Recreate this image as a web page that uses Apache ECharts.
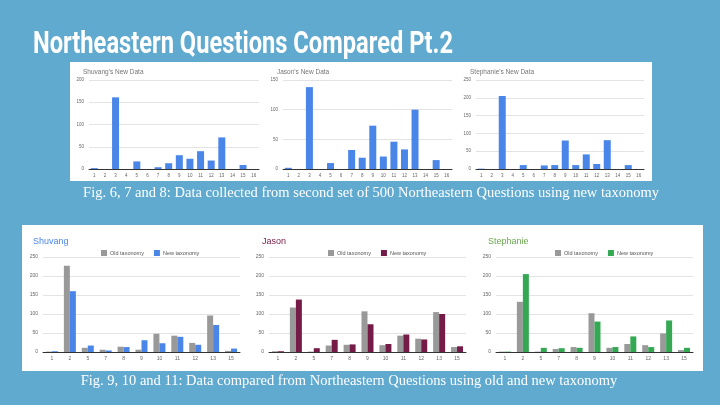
<!DOCTYPE html>
<html><head><meta charset="utf-8">
<script src="https://cdn.jsdelivr.net/npm/echarts@6/dist/echarts.min.js"></script>
<style>html,body{margin:0;padding:0;background:#60a9cf;}#c{width:720px;height:405px;}</style>
</head><body><div id="c"></div>
<script>
var slideTitle = 'Northeastern Questions Compared Pt.2';
var captionTop = 'Fig. 6, 7 and 8: Data collected from second set of 500 Northeastern Questions using new taxonomy';
var captionBottom = 'Fig. 9, 10 and 11: Data compared from Northeastern Questions using old and new taxonomy';

var topCategories = ['1','2','3','4','5','6','7','8','9','10','11','12','13','14','15','16'];
var topTitles = ["Shuvang's New Data", "Jason's New Data", "Stephanie's New Data"];
var topMax = [200, 150, 250];
var shuvangNewTop = [2,0,161,0,17,0,4,13,31,23,40,19,71,0,9,0];
var jasonNewTop = [2,0,138,0,10,0,32,19,73,21,46,33,100,0,15,0];
var stephanieNewTop = [1,0,205,0,11,0,10,11,80,11,41,14,81,0,11,0];

var bottomCategories = ['1','2','5','7','8','9','10','11','12','13','15'];
var bottomTitles = ['Shuvang', 'Jason', 'Stephanie'];
var seriesNames = ['Old taxonomy', 'New taxonomy'];
var shuvangOld = [1,227,11,6,14,6,48,43,24,96,3];
var shuvangNew = [2,160,17,4,13,31,23,40,19,71,9];
var jasonOld = [2,117,1,17,19,107,18,43,35,105,13];
var jasonNew = [2,138,10,32,20,73,21,46,33,100,15];
var stephanieOld = [1,132,1,8,13,102,11,21,18,49,5];
var stephanieNew = [1,205,11,10,11,80,13,41,13,83,11];

var topData = [shuvangNewTop, jasonNewTop, stephanieNewTop];
var bottomOld = [shuvangOld, jasonOld, stephanieOld];
var bottomNew = [shuvangNew, jasonNew, stephanieNew];
var newColors = ['#4a86e8', '#741b47', '#34a853'];
var titleColors = ['#4a86e8', '#741b47', '#6aa84f'];
var oldColor = '#999999';
var topBlue = '#4a86e8';

var topGrids = [{left:89,width:170},{left:283,width:169},{left:476,width:168}];
var topTitleX = [78, 272, 465];
var botGrids = [{left:43,width:197},{left:269,width:197},{left:496,width:197}];
var botTitleX = [28, 257, 483];
var legendX = [96, 323, 550];

var chart = echarts.init(document.getElementById('c'), null, {renderer:'canvas'});
var FONT = 'Liberation Sans, Arial, sans-serif';
var grid = [], xAxis = [], yAxis = [], series = [], titles = [], legends = [];

function axisPair(i, cats, max, labelSize) {
  xAxis.push({gridIndex:i, type:'category', data:cats,
    axisTick:{show:false}, axisLine:{lineStyle:{color:'#333', width:1}},
    axisLabel:{interval:0, fontSize:labelSize, color:'#666', fontFamily:FONT, margin:4}});
  yAxis.push({gridIndex:i, type:'value', min:0, max:max, interval:50,
    axisLine:{show:false}, axisTick:{show:false},
    splitLine:{lineStyle:{color:'#e3e3e3', width:1}},
    axisLabel:{fontSize:labelSize, color:'#666', fontFamily:FONT, margin:5}});
}

for (var i = 0; i < 3; i++) {
  grid.push({left:topGrids[i].left, width:topGrids[i].width, top:80, height:89});
  axisPair(i, topCategories, topMax[i], 4.5);
  series.push({type:'bar', name:'top'+i, xAxisIndex:i, yAxisIndex:i, data:topData[i],
    barWidth:7, itemStyle:{color:topBlue}});
  titles.push({text:topTitles[i], left:topTitleX[i], top:64,
    textStyle:{fontSize:6.5, fontWeight:'normal', color:'#757575', fontFamily:FONT}});
}
for (var j = 0; j < 3; j++) {
  var gi = 3 + j;
  grid.push({left:botGrids[j].left, width:botGrids[j].width, top:257, height:95});
  axisPair(gi, bottomCategories, 250, 5);
  series.push({type:'bar', name:seriesNames[0], xAxisIndex:gi, yAxisIndex:gi, data:bottomOld[j],
    barWidth:6, barGap:'0%', itemStyle:{color:oldColor}});
  series.push({type:'bar', name:seriesNames[1], xAxisIndex:gi, yAxisIndex:gi, data:bottomNew[j],
    barWidth:6, barGap:'0%', itemStyle:{color:newColors[j]}});
  titles.push({text:bottomTitles[j], left:botTitleX[j], top:232,
    textStyle:{fontSize:9, fontWeight:'normal', color:titleColors[j], fontFamily:FONT}});
  legends.push({left:legendX[j], top:245, itemWidth:6, itemHeight:6, itemGap:10, icon:'rect',
    selectedMode:false,
    textStyle:{fontSize:5.5, color:'#555', fontFamily:FONT, padding:[0,0,0,-2]},
    data:[{name:seriesNames[0], itemStyle:{color:oldColor}}, {name:seriesNames[1], itemStyle:{color:newColors[j]}}]});
}

chart.setOption({
  backgroundColor:'#60a9cf',
  animation:false,
  title:titles,
  legend:legends,
  grid:grid, xAxis:xAxis, yAxis:yAxis, series:series,
  graphic:{z:-10, elements:[
    {type:'rect', z:-10, silent:true, shape:{x:70, y:62, width:582, height:119}, style:{fill:'#ffffff'}},
    {type:'rect', z:-10, silent:true, shape:{x:22, y:225, width:681, height:146}, style:{fill:'#ffffff'}},
    {type:'text', x:33, y:45, scaleX:0.74, style:{text:slideTitle, fill:'#ffffff',
      font:'bold 32px Roboto, sans-serif', textVerticalAlign:'middle', textAlign:'left'}},
    {type:'text', x:371, y:193, style:{text:captionTop, fill:'#ffffff',
      font:'normal 14.5px "Liberation Serif", serif', textVerticalAlign:'middle', textAlign:'center'}},
    {type:'text', x:349, y:381, style:{text:captionBottom, fill:'#ffffff',
      font:'normal 14.5px "Liberation Serif", serif', textVerticalAlign:'middle', textAlign:'center'}}
  ]}
});
</script></body></html>
